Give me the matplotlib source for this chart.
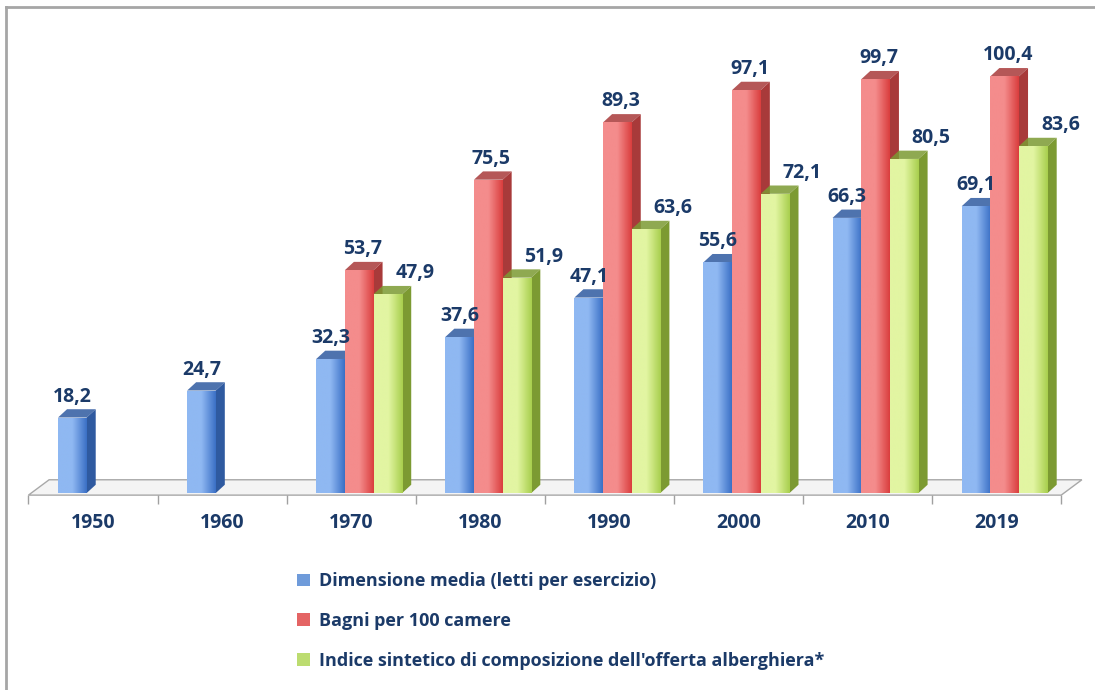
import numpy as np
import matplotlib
matplotlib.use('Agg')
import matplotlib.pyplot as plt
from matplotlib.patches import Polygon, Patch
from matplotlib.colors import LinearSegmentedColormap
from matplotlib.lines import Line2D

# dati
anni = ['1950', '1960', '1970', '1980', '1990', '2000', '2010', '2019']
dimensione = [18.2, 24.7, 32.3, 37.6, 47.1, 55.6, 66.3, 69.1]
bagni = [None, None, 53.7, 75.5, 89.3, 97.1, 99.7, 100.4]
indice = [None, None, 47.9, 51.9, 63.6, 72.1, 80.5, 83.6]
serie_nomi = ['Dimensione media (letti per esercizio)',
              'Bagni per 100 camere',
              "Indice sintetico di composizione dell'offerta alberghiera*"]

plt.rcParams['font.family'] = ['Open Sans', 'DejaVu Sans']
plt.rcParams['font.weight'] = 'bold'
navy = '#1B3A68'

# colori: (chiaro, scuro, lato, legenda)
colori = [
  ('#8FB8F2', '#3B70C6', '#2F5AA0', '#6F9BDA'),
  ('#F48C8C', '#DA3E3E', '#A83A3A', '#E46464'),
  ('#E2F5A2', '#A9CF4E', '#7C9A32', '#BCDC70'),
]
label_dx = [0, 3, 27]  # spostamento etichette in px

fig = plt.figure(figsize=(10.95, 6.9), dpi=100)
W, H = 1095, 690
ax = fig.add_axes([20 / W, (H - 505.5) / H, 1070 / W, (505.5 - 28.2) / H])
ax.set_xlim(-0.5655, 7.723)
ax.set_ylim(-3, 112)
ax.axis('off')

x = np.arange(len(anni))
w = 0.222
off = 0.062
dx = 0.07   # profondita 3D
dy = 2.0

# pavimento
fx0, fx1 = -0.5, 7.5
floor = Polygon([(fx0, -0.5), (fx1, -0.5), (fx1 + 0.16, 3.2), (fx0 + 0.16, 3.2)],
                closed=True, facecolor='#F4F4F4', edgecolor='#A8A8A8', lw=1.0, zorder=1)
ax.add_patch(floor)
ax.vlines(np.arange(len(anni) + 1) - 0.5, -2.6, -0.5, color='#A0A0A0', lw=1.0, zorder=1)

for k, vals in enumerate([dimensione, bagni, indice]):
  c_light, c_dark, c_side, _ = colori[k]
  cmap = LinearSegmentedColormap.from_list('g%d' % k, [c_light, c_light, c_dark])
  xs = [x[i] + off + (k - 1) * w for i in range(len(vals)) if vals[i] is not None]
  hs = [v for v in vals if v is not None]
  bars = ax.bar(xs, hs, width=w, color=c_dark, zorder=10 + k * 3 + 2, lw=0)
  for b, h in zip(bars, hs):
    x0 = b.get_x()
    x1 = x0 + b.get_width()
    z = 10 + k * 3
    ax.add_patch(Polygon([(x1, 0), (x1 + dx, dy), (x1 + dx, h + dy), (x1, h)],
                         closed=True, facecolor=c_side, lw=0, zorder=z))
    ax.add_patch(Polygon([(x0, h), (x0 + dx, h + dy), (x1 + dx, h + dy), (x1, h)],
                         closed=True, facecolor=c_side, alpha=0.85, lw=0, zorder=z + 1))
    grad = np.linspace(0, 1, 64).reshape(1, -1)
    im = ax.imshow(grad, extent=[x0, x1, 0, h], aspect='auto', cmap=cmap,
                   zorder=z + 2.5, interpolation='bilinear')
    im.set_clip_path(b)
    lab = ('%.1f' % h).replace('.', ',')
    ax.annotate(lab, ((x0 + x1) / 2, h), xytext=(label_dx[k] * 0.72, 21 * 0.72),
                textcoords='offset points', ha='center', va='center',
                fontsize=14, fontweight='bold', color=navy, zorder=30,
                annotation_clip=False)

ax.set_xlim(-0.5655, 7.723)
ax.set_ylim(-3, 112)

for i, a in enumerate(anni):
  ax.text(x[i], -7.2, a, ha='center', va='center', fontsize=14,
          fontweight='bold', color=navy)

handles = [Patch(facecolor=colori[k][3], edgecolor='none') for k in range(3)]
leg = fig.legend(handles, serie_nomi, loc='upper left',
                 bbox_to_anchor=(281 / W, 1 - 556 / H), frameon=False,
                 handlelength=0.7, handleheight=0.7, handletextpad=0.5,
                 labelspacing=1.2, prop={'family': ['Open Sans', 'DejaVu Sans'],
                                         'weight': 'bold', 'size': 13})
for t in leg.get_texts():
  t.set_color(navy)

# cornice
fig.add_artist(Line2D([6 / W, 6 / W], [0, 1 - 7 / H], color='#A6A6A6', lw=2))
fig.add_artist(Line2D([6 / W, 1], [1 - 7 / H, 1 - 7 / H], color='#A6A6A6', lw=2))

fig.savefig('out.png', dpi=100)
